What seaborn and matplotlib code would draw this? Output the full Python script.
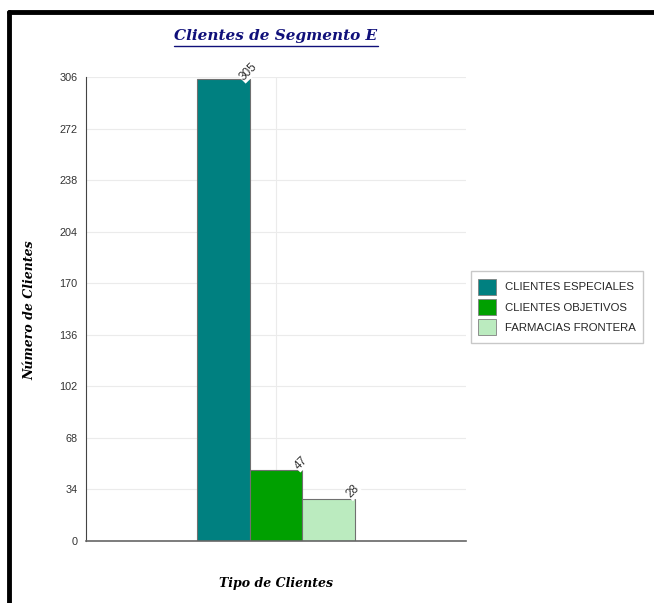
import matplotlib
matplotlib.use("Agg")
import matplotlib.pyplot as plt
import seaborn as sns
import pandas as pd
from matplotlib.patches import Rectangle
from matplotlib.lines import Line2D

# Data
categoria = ["Tipo de Clientes"]
series = ["CLIENTES ESPECIALES", "CLIENTES OBJETIVOS", "FARMACIAS FRONTERA"]
valores = [305, 47, 28]
colores = ["#008080", "#00A000", "#BBEBBF"]
yticks = [0, 34, 68, 102, 136, 170, 204, 238, 272, 306]

df = pd.DataFrame({"cat": categoria * len(series), "serie": series, "valor": valores})

sns.set_style("white")
plt.rcParams["font.family"] = ["Liberation Sans", "DejaVu Sans"]

fig = plt.figure(figsize=(6.54, 6.03), dpi=100)
ax = fig.add_axes([86 / 654, 1 - 541 / 603, 380 / 654, 464 / 603])

sns.barplot(data=df, x="cat", y="valor", hue="serie", hue_order=series,
            palette=colores, saturation=1, width=0.414, dodge=True, ax=ax,
            edgecolor="#707070", linewidth=0.8, legend=False)

ax.set_ylim(0, 306)
ax.set_xlim(-0.5, 0.5)
ax.set_yticks(yticks)
ax.set_yticklabels([str(t) for t in yticks], fontsize=7.8, color="#333333")
ax.set_xticks([0])
ax.set_xticklabels([""])
ax.tick_params(axis="both", length=4, width=0.8, color="#555555", direction="out", pad=2)
ax.grid(True, color="#EBEBEB", linewidth=0.8)
ax.set_axisbelow(True)
for s in ["top", "right"]:
    ax.spines[s].set_visible(False)
ax.spines["left"].set_color("#444444")
ax.spines["bottom"].set_color("#666666")
ax.spines["bottom"].set_linewidth(1.2)
ax.set_xlabel("")
ax.set_ylabel("")

# Value labels at top-right corner of each bar
for bar, v in zip(ax.patches, valores):
    x_r = bar.get_x() + bar.get_width()
    ax.annotate(str(v), (x_r, v), xytext=(-1, 5), textcoords="offset points",
                rotation=45, ha="center", va="center", fontsize=8.5, color="#333333",
                bbox=dict(boxstyle="square,pad=0.05", fc="white", ec="none"),
                annotation_clip=False)

# Titles
fig.text(276 / 654, 1 - 36 / 603, "Clientes de Segmento E", ha="center", va="center",
         fontsize=11, fontweight="bold", style="italic", family="DejaVu Serif",
         color="#10107A")
fig.add_artist(Line2D([174 / 654, 378 / 654], [1 - 46 / 603, 1 - 46 / 603],
                      color="#10107A", linewidth=1.0))
fig.text(30 / 654, 1 - 310 / 603, "Número de Clientes", ha="center", va="center",
         rotation=90, fontsize=9, fontweight="bold", style="italic",
         family="DejaVu Serif", color="black")
fig.text(276 / 654, 1 - 584 / 603, "Tipo de Clientes", ha="center", va="center",
         fontsize=9, fontweight="bold", style="italic", family="DejaVu Serif",
         color="black")

# Legend
handles = [Rectangle((0, 0), 1, 1, fc=c, ec="#808080", lw=0.6) for c in colores]
fig.legend(handles, series, loc="center left", bbox_to_anchor=(471 / 654, 1 - 307 / 603),
           fontsize=8.2, frameon=True, fancybox=False, edgecolor="#BBBBBB",
           handlelength=1.55, handleheight=1.75, handletextpad=0.75, labelspacing=0.4,
           borderpad=0.65, borderaxespad=0)

# Page frame: top and left edges
fig.add_artist(Line2D([9 / 654, 1], [1 - 12 / 603, 1 - 12 / 603], color="black", linewidth=3.5))
fig.add_artist(Line2D([9 / 654, 9 / 654], [1 - 12 / 603, 0], color="black", linewidth=3.5))

fig.savefig("out.png", dpi=100)
